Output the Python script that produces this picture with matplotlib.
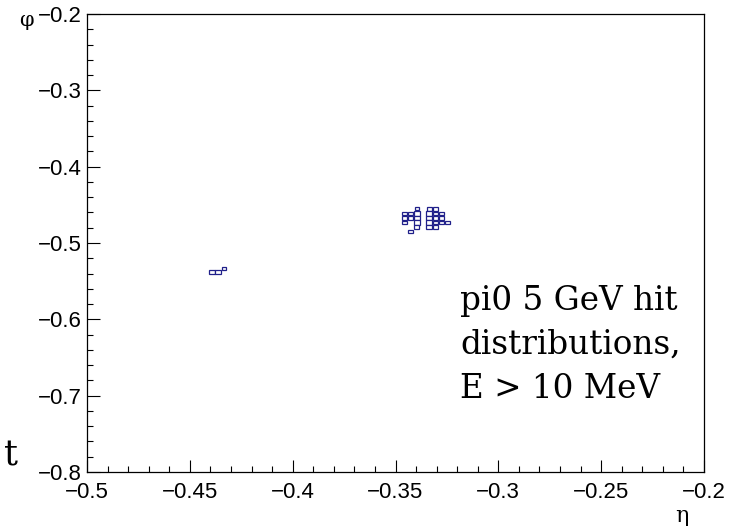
import numpy as np
import matplotlib
matplotlib.use("Agg")
import matplotlib.pyplot as plt
from matplotlib.patches import Rectangle
from matplotlib.ticker import MultipleLocator

# 命中位置 (eta, phi) 和盒子相对大小
hit_eta = [-0.3456, -0.3456, -0.3456,
           -0.3426, -0.3426, -0.3426,
           -0.3396, -0.3396, -0.3396, -0.3396, -0.3396,
           -0.3336, -0.3336, -0.3336, -0.3336, -0.3336,
           -0.3306, -0.3306, -0.3306, -0.3306, -0.3306,
           -0.3276, -0.3276, -0.3276,
           -0.3246,
           -0.4392, -0.4363, -0.4334]
hit_phi = [-0.4613, -0.4673, -0.4733,
           -0.4613, -0.4673, -0.4853,
           -0.4553, -0.4613, -0.4673, -0.4733, -0.4793,
           -0.4553, -0.4613, -0.4673, -0.4733, -0.4793,
           -0.4553, -0.4613, -0.4673, -0.4733, -0.4793,
           -0.4613, -0.4673, -0.4733,
           -0.4733,
           -0.5379, -0.5379, -0.5333]
hit_size = [0.75, 0.75, 0.75,
            0.75, 0.75, 0.75,
            0.70, 0.95, 0.95, 0.95, 0.80,
            0.75, 0.95, 0.95, 0.95, 0.95,
            0.75, 0.75, 0.75, 0.75, 0.75,
            0.75, 0.75, 0.75,
            0.75,
            0.90, 0.90, 0.70]

bin_eta = 0.003
bin_phi = 0.006

x_ticks = [-0.5, -0.45, -0.4, -0.35, -0.3, -0.25, -0.2]
y_ticks = [-0.8, -0.7, -0.6, -0.5, -0.4, -0.3, -0.2]

plt.rcParams['font.family'] = ['Liberation Sans', 'DejaVu Sans']

fig = plt.figure(figsize=(7.35, 5.26), dpi=100)
ax = fig.add_axes([87/735, 1-472/526, (704-87)/735, (472-14)/526])

box_color = '#20208a'
for e, p, s in zip(hit_eta, hit_phi, hit_size):
    w = bin_eta * s
    h = bin_phi * s
    ax.add_patch(Rectangle((e - w/2, p - h/2), w, h, facecolor='white',
                           edgecolor=box_color, linewidth=0.9))

ax.set_xlim(-0.5, -0.2)
ax.set_ylim(-0.8, -0.2)
ax.set_xticks(x_ticks)
ax.set_yticks(y_ticks)
ax.set_xticklabels(['\u22120.5', '\u22120.45', '\u22120.4', '\u22120.35', '\u22120.3', '\u22120.25', '\u22120.2'])
ax.set_yticklabels(['\u22120.8', '\u22120.7', '\u22120.6', '\u22120.5', '\u22120.4', '\u22120.3', '\u22120.2'])
ax.xaxis.set_minor_locator(MultipleLocator(0.01))
ax.yaxis.set_minor_locator(MultipleLocator(0.02))
ax.tick_params(which='major', direction='in', length=9, width=0.8, labelsize=16,
               top=False, right=False)
ax.tick_params(which='minor', direction='in', length=4.5, width=0.8,
               top=False, right=False)
ax.tick_params(axis='x', pad=7)
ax.tick_params(axis='y', pad=3.5)
for sp in ax.spines.values():
    sp.set_linewidth(0.9)

# 轴标题 (ROOT 风格)
fig.text(26/735, 1-21/526, '\u03c6', fontsize=15, family='DejaVu Serif',
         ha='center', va='center')
fig.text(682/735, 1-516/526, '\u03b7', fontsize=16, family='DejaVu Serif',
         ha='center', va='center')
fig.text(11/735, 1-456/526, 't', fontsize=25, family='DejaVu Serif',
         ha='center', va='center')

fig.text(460/735, 1-285/526, 'pi0 5 GeV hit\ndistributions,\nE > 10 MeV',
         fontsize=23.5, family='DejaVu Serif', ha='left', va='top',
         linespacing=1.47, multialignment='left')

fig.savefig('out.png', dpi=100)
